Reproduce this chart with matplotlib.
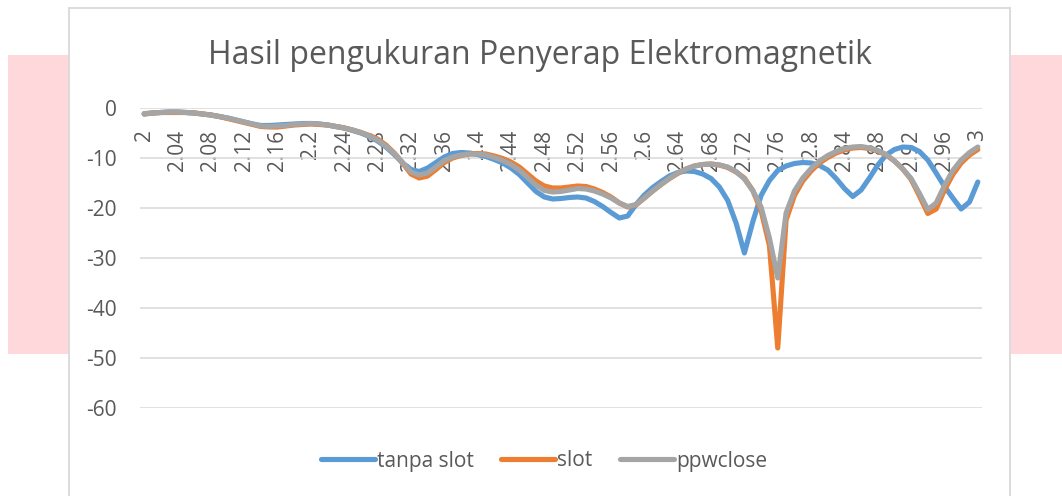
import matplotlib
matplotlib.use("Agg")
import matplotlib.pyplot as plt
from matplotlib.patches import Rectangle
from matplotlib.lines import Line2D

plt.rcParams["font.family"] = ["Open Sans", "DejaVu Sans"]
plt.rcParams["axes.unicode_minus"] = False

# frekuensi 2.00 .. 3.00 GHz, step 0.01
freq = [f"{2 + i / 100:.2f}".rstrip("0").rstrip(".") for i in range(101)]

tanpa_slot = [
    -1.2, -1.0, -0.9, -0.8, -0.8, -0.9, -1.0, -1.2, -1.4, -1.7,
    -2.0, -2.4, -2.8, -3.2, -3.5, -3.5, -3.4, -3.3, -3.2, -3.1,
    -3.1, -3.2, -3.4, -3.7, -4.0, -4.5, -5.0, -5.7, -6.6, -7.8,
    -9.3, -11.0, -12.3, -12.7, -12.0, -10.9, -9.8, -9.1, -8.9, -9.0,
    -9.3, -9.7, -10.3, -11.0, -12.0, -13.3, -15.0, -16.7, -17.8, -18.2,
    -18.1, -17.9, -17.8, -18.0, -18.7, -19.7, -20.9, -22.0, -21.6, -19.3,
    -17.4, -15.9, -14.7, -13.6, -12.9, -12.6, -12.7, -13.2, -14.1, -15.8,
    -18.5, -23.0, -29.0, -22.8, -17.5, -14.5, -12.5, -11.6, -11.1, -10.9,
    -11.0, -11.5, -12.4, -14.1, -16.1, -17.7, -16.4, -14.0, -11.4, -9.4,
    -8.3, -7.8, -7.9, -8.7, -10.4, -13.0, -15.7, -18.0, -20.2, -18.8,
    -14.8,
]

slot = [
    -1.2, -1.0, -0.9, -0.9, -0.9, -0.9, -1.0, -1.2, -1.4, -1.7,
    -2.1, -2.5, -2.9, -3.3, -3.7, -3.8, -3.8, -3.6, -3.4, -3.3,
    -3.2, -3.3, -3.4, -3.7, -4.0, -4.4, -4.9, -5.5, -6.2, -7.4,
    -9.0, -11.0, -13.2, -14.0, -13.6, -12.3, -10.9, -10.0, -9.5, -9.2,
    -9.1, -9.2, -9.6, -10.1, -10.8, -11.8, -13.2, -14.6, -15.6, -16.0,
    -16.0, -15.8, -15.6, -15.7, -16.2, -16.9, -17.8, -19.0, -19.8, -19.4,
    -18.0, -16.6, -15.3, -14.1, -13.1, -12.2, -11.6, -11.3, -11.2, -11.4,
    -11.9, -12.8, -14.0, -16.5, -20.5, -27.5, -48.0, -22.4, -17.5, -14.6,
    -12.6, -11.0, -9.9, -9.0, -8.4, -8.0, -7.9, -8.1, -8.6, -9.4,
    -10.6, -12.2, -14.3, -17.6, -21.1, -20.2, -16.4, -13.3, -11.0, -9.4,
    -8.3,
]

ppwclose = [
    -1.1, -1.0, -0.9, -0.8, -0.8, -0.9, -1.0, -1.2, -1.4, -1.7,
    -2.0, -2.4, -2.8, -3.2, -3.6, -3.7, -3.6, -3.5, -3.3, -3.2,
    -3.1, -3.2, -3.4, -3.7, -4.0, -4.4, -4.9, -5.6, -6.4, -7.6,
    -9.1, -10.9, -12.8, -13.4, -13.0, -11.8, -10.5, -9.8, -9.4, -9.2,
    -9.2, -9.4, -9.9, -10.5, -11.3, -12.4, -13.9, -15.4, -16.5, -16.8,
    -16.7, -16.4, -16.1, -16.2, -16.6, -17.2, -18.0, -19.0, -19.7, -19.3,
    -18.0, -16.6, -15.3, -14.1, -13.0, -12.2, -11.6, -11.3, -11.2, -11.4,
    -11.8, -12.7, -14.2, -16.5, -19.8, -26.0, -34.0, -21.0, -16.6, -14.0,
    -12.1, -10.6, -9.5, -8.7, -8.1, -7.8, -7.7, -8.0, -8.5, -9.3,
    -10.6, -12.2, -14.1, -17.1, -20.3, -19.0, -15.5, -12.5, -10.4, -8.9,
    -7.8,
]

series = [
    ("tanpa slot", tanpa_slot, "#5B9BD5"),
    ("slot", slot, "#ED7D31"),
    ("ppwclose", ppwclose, "#A5A5A5"),
]

W, H = 1062, 496
fig = plt.figure(figsize=(W / 100, H / 100), dpi=100)

# pita merah muda di belakang kotak chart
pink = "#FFD8DC"
fig.add_artist(Rectangle((8 / W, 1 - 354 / H), 61 / W, 299 / H,
                         transform=fig.transFigure, color=pink, lw=0, zorder=0))
fig.add_artist(Rectangle((1011 / W, 1 - 354 / H), 51 / W, 299 / H,
                         transform=fig.transFigure, color=pink, lw=0, zorder=0))

# bingkai chart (tanpa sisi bawah)
border = "#D9D9D9"
for xs, ys in [([69, 69], [8, 500]), ([69, 1010], [8, 8]), ([1010, 1010], [8, 500])]:
    fig.add_artist(Line2D([x / W for x in xs], [1 - y / H for y in ys],
                          transform=fig.transFigure, color=border, lw=1.3, zorder=1))

ax = fig.add_axes([140 / W, 1 - 408 / H, 842 / W, 300 / H])
ax.set_zorder(2)
ax.patch.set_alpha(0)

x = list(range(len(freq)))
for name, vals, color in series:
    ax.plot(x, vals, color=color, lw=3.7, label=name,
            solid_capstyle="round", solid_joinstyle="round", zorder=3)

ax.set_xlim(-0.5, len(freq) - 0.5)
ax.set_ylim(-60, 0)
ax.set_yticks(range(-60, 1, 10))
ax.yaxis.grid(True, color=border, lw=1.1)
ax.set_axisbelow(True)
for s in ax.spines.values():
    s.set_visible(False)

tick_color = "#595959"
ax.tick_params(axis="y", length=0, pad=16.5, labelsize=15, labelcolor=tick_color)
ax.set_xticks(x[::4])
ax.set_xticklabels(freq[::4], rotation=90)
ax.tick_params(axis="x", length=0, pad=-200.5, labelsize=15, labelcolor=tick_color)

fig.text(540 / W, 1 - 56 / H, "Hasil pengukuran Penyerap Elektromagnetik",
         ha="center", va="center", fontsize=23, color=tick_color)

ax.legend(loc="center", bbox_to_anchor=(544 / W, 1 - 461 / H),
          bbox_transform=fig.transFigure, ncol=3, frameon=False,
          fontsize=15, labelcolor=tick_color, handlelength=2.6,
          handletextpad=0.1, columnspacing=1.3)

fig.savefig("out.png", dpi=100)
